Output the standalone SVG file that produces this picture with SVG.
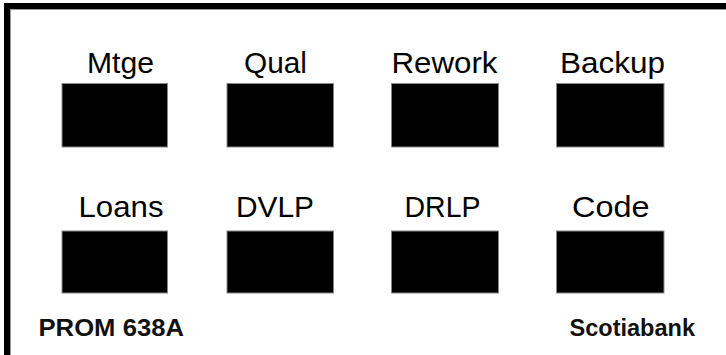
<svg xmlns="http://www.w3.org/2000/svg" width="726" height="355" viewBox="0 0 726 355">
<style>
.lbl{font-family:"Liberation Sans",Arial,sans-serif;font-size:29px;fill:#000}
.bold{font-family:"Liberation Sans",Arial,sans-serif;font-size:23.5px;font-weight:bold;fill:#111}
.blk{fill:#000;stroke:#888;stroke-width:1}
</style>
<rect x="0" y="0" width="726" height="355" fill="#fff"/>
<g id="frame">
<rect x="4" y="3" width="722" height="6" fill="#000"/>
<rect x="4" y="3" width="6" height="352" fill="#000"/>
<line x1="10" y1="9.5" x2="726" y2="9.5" stroke="#999" stroke-width="1"/>
<line x1="10.5" y1="9" x2="10.5" y2="355" stroke="#999" stroke-width="1"/>
</g>
<g id="mtge"><text class="lbl" x="87" y="73" textLength="67" lengthAdjust="spacingAndGlyphs">Mtge</text><rect class="blk" x="62" y="83.5" width="105.5" height="63.5"/></g>
<g id="qual"><text class="lbl" x="244" y="73" textLength="63" lengthAdjust="spacingAndGlyphs">Qual</text><rect class="blk" x="227" y="83.5" width="106.5" height="63.5"/></g>
<g id="rework"><text class="lbl" x="391.5" y="73" textLength="106" lengthAdjust="spacingAndGlyphs">Rework</text><rect class="blk" x="391.5" y="83.5" width="107" height="63.5"/></g>
<g id="backup"><text class="lbl" x="560" y="73" textLength="105" lengthAdjust="spacingAndGlyphs">Backup</text><rect class="blk" x="556.5" y="83.5" width="107.5" height="63.5"/></g>
<g id="loans"><text class="lbl" x="78.5" y="217" textLength="85" lengthAdjust="spacingAndGlyphs">Loans</text><rect class="blk" x="62" y="231" width="105.5" height="62"/></g>
<g id="dvlp"><text class="lbl" x="236" y="217" textLength="78" lengthAdjust="spacingAndGlyphs">DVLP</text><rect class="blk" x="227" y="231" width="106.5" height="62"/></g>
<g id="drlp"><text class="lbl" x="404.5" y="217" textLength="76" lengthAdjust="spacingAndGlyphs">DRLP</text><rect class="blk" x="391.5" y="231" width="107" height="62"/></g>
<g id="code"><text class="lbl" x="572" y="217" textLength="77.5" lengthAdjust="spacingAndGlyphs">Code</text><rect class="blk" x="556.5" y="231" width="107.5" height="62"/></g>
<text class="bold" x="38.5" y="335.5" textLength="145.5" lengthAdjust="spacingAndGlyphs">PROM 638A</text>
<text class="bold" x="569.5" y="335.5" textLength="125.5" lengthAdjust="spacingAndGlyphs">Scotiabank</text>
</svg>
